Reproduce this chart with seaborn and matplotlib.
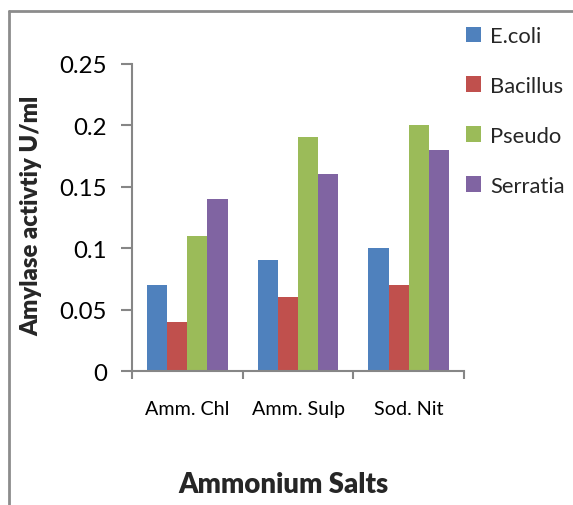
import numpy as np
import pandas as pd
import matplotlib
matplotlib.use("Agg")
import matplotlib.pyplot as plt
from matplotlib.lines import Line2D
from matplotlib.patches import Patch
import seaborn as sns

# Amylase activity by nitrogen source and organism
salts = ["Amm. Chl", "Amm. Sulp", "Sod. Nit"]
organisms = ["E.coli", "Bacillus", "Pseudo", "Serratia"]
ecoli = [0.07, 0.09, 0.10]
bacillus = [0.04, 0.06, 0.07]
pseudo = [0.11, 0.19, 0.20]
serratia = [0.14, 0.16, 0.18]
y_ticks = [0, 0.05, 0.1, 0.15, 0.2, 0.25]
y_tick_labels = ["0", "0.05", "0.1", "0.15", "0.2", "0.25"]

colors = ["#4F81BD", "#C0504D", "#9BBB59", "#8064A2"]

df = pd.DataFrame({
    "salt": salts * 4,
    "organism": [o for o in organisms for _ in salts],
    "activity": ecoli + bacillus + pseudo + serratia,
})

sns.set_theme(style="white")
plt.rcParams["font.family"] = ["Lato", "DejaVu Sans"]

fig = plt.figure(figsize=(5.73, 5.06), dpi=100)
ax = fig.add_axes([0.2304, 0.2648, 0.5794, 0.6077])

sns.barplot(data=df, x="salt", y="activity", hue="organism",
            order=salts, hue_order=organisms, palette=colors,
            width=0.727, saturation=1, ax=ax, legend=False,
            edgecolor="none", errorbar=None)

axis_gray = "#868686"
ax.set_xlim(-0.5, 2.5)
ax.set_ylim(0, 0.25)
ax.set_yticks(y_ticks)
ax.set_yticklabels(y_tick_labels, fontsize=17.3, color="black")
ax.tick_params(axis="y", direction="out", length=8, width=1.5,
               color=axis_gray, left=True, pad=10)
ax.set_xticks(range(len(salts)))
ax.set_xticklabels(salts, fontsize=14.2, color="black")
ax.set_xticks([-0.5, 0.5, 1.5, 2.5], minor=True)
ax.tick_params(axis="x", which="major", length=0, pad=21)
ax.tick_params(axis="x", which="minor", direction="out", length=6,
               width=1.5, color=axis_gray, bottom=True)
for side in ["top", "right"]:
    ax.spines[side].set_visible(False)
for side in ["left", "bottom"]:
    ax.spines[side].set_color(axis_gray)
    ax.spines[side].set_linewidth(1.5)
ax.set_xlabel("")
ax.set_ylabel("")

fig.text(31 / 573, 1 - 216 / 506, "Amylase activtiy U/ml", rotation=90,
         ha="center", va="center", fontsize=17.2, fontweight="heavy")
fig.text(283 / 573, 1 - 485 / 506, "Ammonium Salts", ha="center",
         va="center", fontsize=19.8, fontweight="heavy")

handles = [Patch(facecolor=c, edgecolor="none") for c in colors]
fig.legend(handles, organisms, loc="upper left",
           bbox_to_anchor=(466 / 573, 1 - 27 / 506), frameon=False,
           fontsize=15.8, handlelength=0.7, handleheight=0.7,
           handletextpad=0.4, labelspacing=1.36, borderpad=0,
           borderaxespad=0)

# outer chart-area frame
fig.add_artist(Line2D([8.5 / 573, 8.5 / 573], [0, 1 - 12 / 506],
                      transform=fig.transFigure, color="#8c8c8c", lw=2))
fig.add_artist(Line2D([8.5 / 573, 1], [1 - 12 / 506, 1 - 12 / 506],
                      transform=fig.transFigure, color="#8c8c8c", lw=2))

fig.savefig("out.png", dpi=100)
